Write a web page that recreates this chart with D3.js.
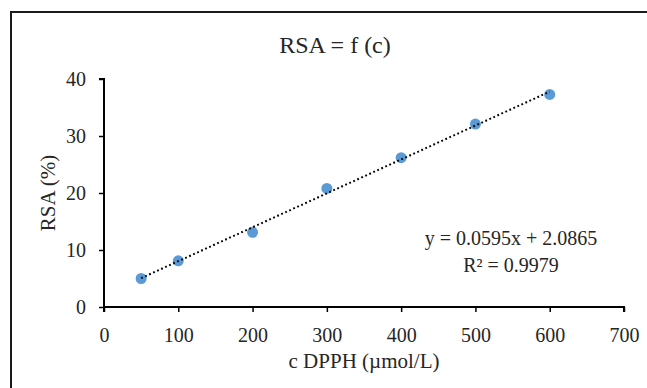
<!DOCTYPE html>
<html>
<head>
<meta charset="utf-8">
<script src="https://cdn.jsdelivr.net/npm/d3@7"></script>
<style>
	body { margin: 0; background: #fff; }
	text { font-family: "Liberation Serif", "Times New Roman", serif; fill: #262626; }
</style>
</head>
<body>
<div id="chart"></div>
<script>
// measured points (c DPPH in umol/L, RSA in %)
var concentrations = [50, 100, 200, 300, 400, 500, 600];
var rsaValues = [5.0, 8.1, 13.1, 20.8, 26.2, 32.1, 37.3];
// linear trendline as printed on the chart
var slope = 0.0595,
	intercept = 2.0865;
var xTicks = [0, 100, 200, 300, 400, 500, 600, 700];
var yTicks = [0, 10, 20, 30, 40];

var W = 647, H = 388;
var margin = {top: 79, right: 23, bottom: 81, left: 104},
	width = W - margin.left - margin.right,
	height = H - margin.top - margin.bottom;

var svg = d3.select("#chart").append("svg")
	.attr("width", W)
	.attr("height", H);

// chart frame, runs off the right and bottom edges like the original
svg.append("rect")
	.attr("x", 11)
	.attr("y", 12)
	.attr("width", 700)
	.attr("height", 400)
	.attr("fill", "none")
	.attr("stroke", "#1a1a1a")
	.attr("stroke-width", 2);

svg.append("text")
	.attr("x", 335)
	.attr("y", 53)
	.attr("text-anchor", "middle")
	.style("font-size", "24px")
	.text("RSA = f (c)");

var g = svg.append("g")
	.attr("transform", "translate(" + margin.left + "," + margin.top + ")");

var x = d3.scaleLinear().domain([0, 700]).range([0, width]);
var y = d3.scaleLinear().domain([0, 40]).range([height, 0]);

var xAxis = g.append("g")
	.attr("transform", "translate(0," + height + ")")
	.call(d3.axisBottom(x).tickValues(xTicks).tickSize(5).tickPadding(16));
var yAxis = g.append("g")
	.call(d3.axisLeft(y).tickValues(yTicks).tickSize(5).tickPadding(13));

[xAxis, yAxis].forEach(function (ax) {
	ax.select(".domain").attr("stroke", "#000").attr("stroke-width", 2);
	ax.selectAll(".tick line").attr("stroke", "#000").attr("stroke-width", 1.5);
	ax.selectAll(".tick text")
		.attr("fill", "#262626")
		.style("font-family", "'Liberation Serif', serif")
		.style("font-size", "20px");
});
xAxis.select(".domain").attr("d", "M0,5V0H" + width + "V5");
yAxis.select(".domain").attr("d", "M-5,0H0V" + height);

// axis titles
svg.append("text")
	.attr("x", margin.left + width / 2)
	.attr("y", 368)
	.attr("text-anchor", "middle")
	.style("font-size", "21px")
	.text("c DPPH (µmol/L)");
svg.append("text")
	.attr("transform", "translate(55," + (margin.top + height / 2) + ") rotate(-90)")
	.attr("text-anchor", "middle")
	.style("font-size", "21px")
	.text("RSA (%)");

var points = concentrations.map(function (c, i) { return {c: c, v: rsaValues[i]}; });

g.selectAll("circle")
	.data(points)
	.enter().append("circle")
	.attr("cx", function (d) { return x(d.c); })
	.attr("cy", function (d) { return y(d.v); })
	.attr("r", 5.5)
	.attr("fill", "#5b9bd5");

// dotted trendline over the data range
var xMin = d3.min(concentrations), xMax = d3.max(concentrations);
g.append("line")
	.attr("x1", x(xMin))
	.attr("y1", y(slope * xMin + intercept))
	.attr("x2", x(xMax))
	.attr("y2", y(slope * xMax + intercept))
	.attr("stroke", "#000")
	.attr("stroke-width", 2)
	.attr("stroke-dasharray", "1.8,2.6");

// equation label
var eq = svg.append("text")
	.attr("x", 511)
	.attr("text-anchor", "middle")
	.style("font-size", "20px");
eq.append("tspan")
	.attr("x", 511)
	.attr("y", 245)
	.text("y = " + slope.toFixed(4) + "x  + " + intercept.toFixed(4));
eq.append("tspan")
	.attr("x", 511)
	.attr("y", 272)
	.text("R² = 0.9979");
</script>
</body>
</html>
